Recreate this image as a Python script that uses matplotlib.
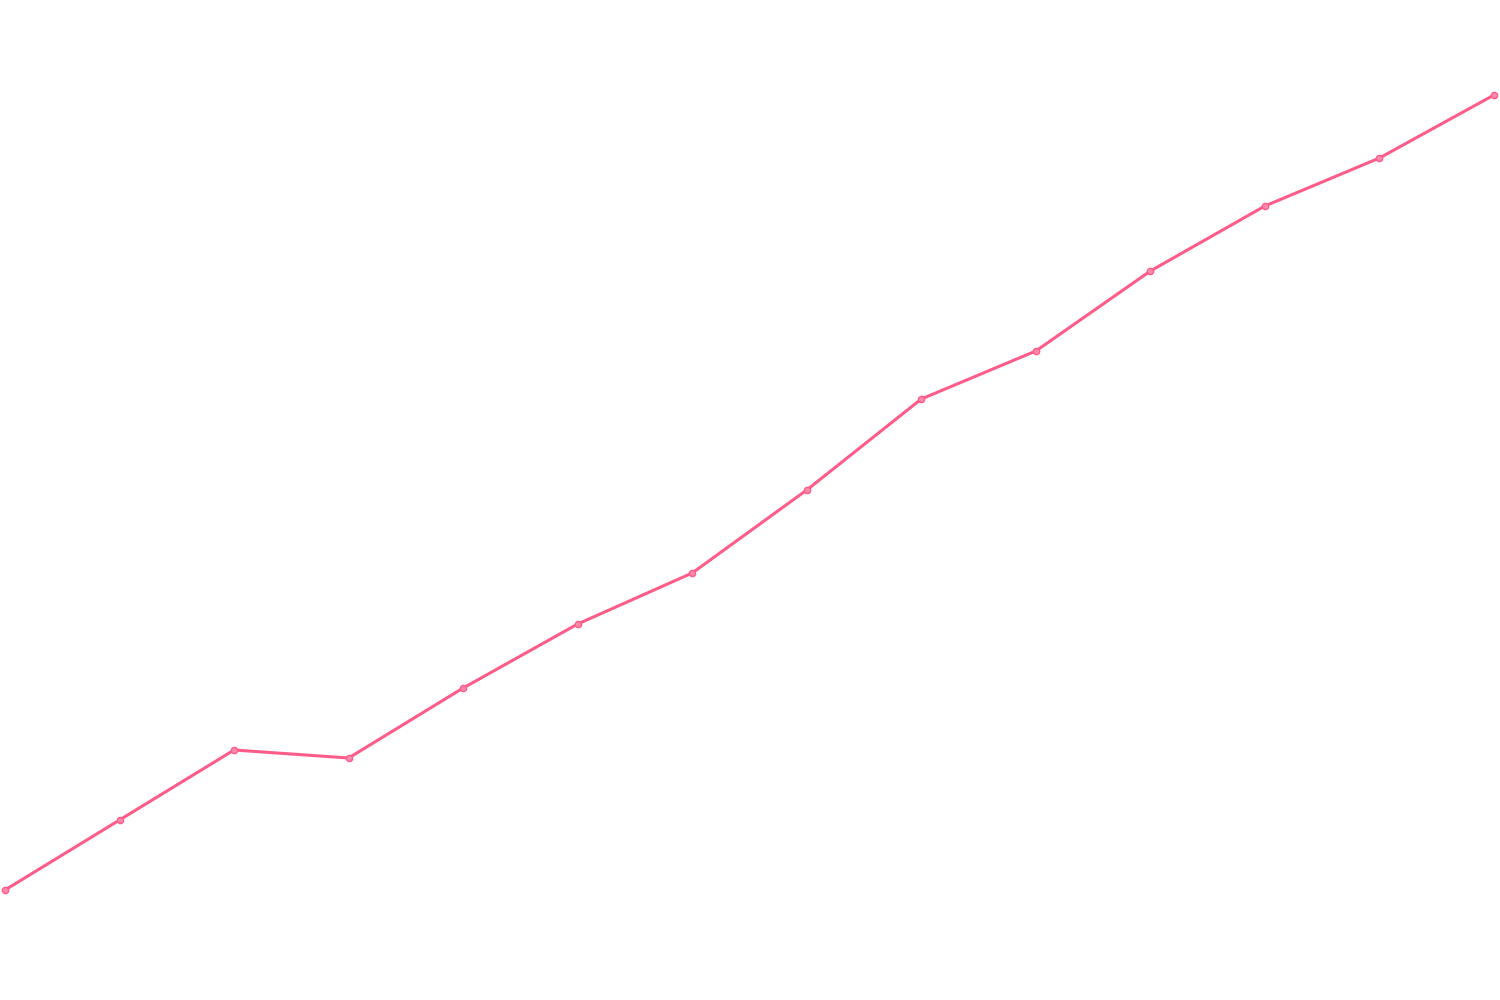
import numpy as np
import matplotlib
matplotlib.use("Agg")
from matplotlib import pyplot as plt

# values (0-1000 scale, bottom = 0)
steps = np.arange(14)
values = [110, 180, 250, 242, 312, 376, 427, 510, 601, 649, 729, 794, 842, 905]

line_color = "#ff5c8a"

fig = plt.figure(figsize=(15, 10), dpi=100)
ax = fig.add_axes([0, 0, 1, 1])

ax.plot(steps, values, color=line_color, linewidth=2.2, solid_capstyle="round",
        marker="o", markersize=4.5, markerfacecolor="#ff8aab",
        markeredgecolor=line_color, markeredgewidth=1.0)

# map step 0 to x=5px and step 13 to x=1494px
span = 13 * 1500 / 1489
xmin = -5 * span / 1500
ax.set_xlim(xmin, xmin + span)
ax.set_ylim(0, 1000)
ax.axis("off")

fig.savefig("out.png", dpi=100)
